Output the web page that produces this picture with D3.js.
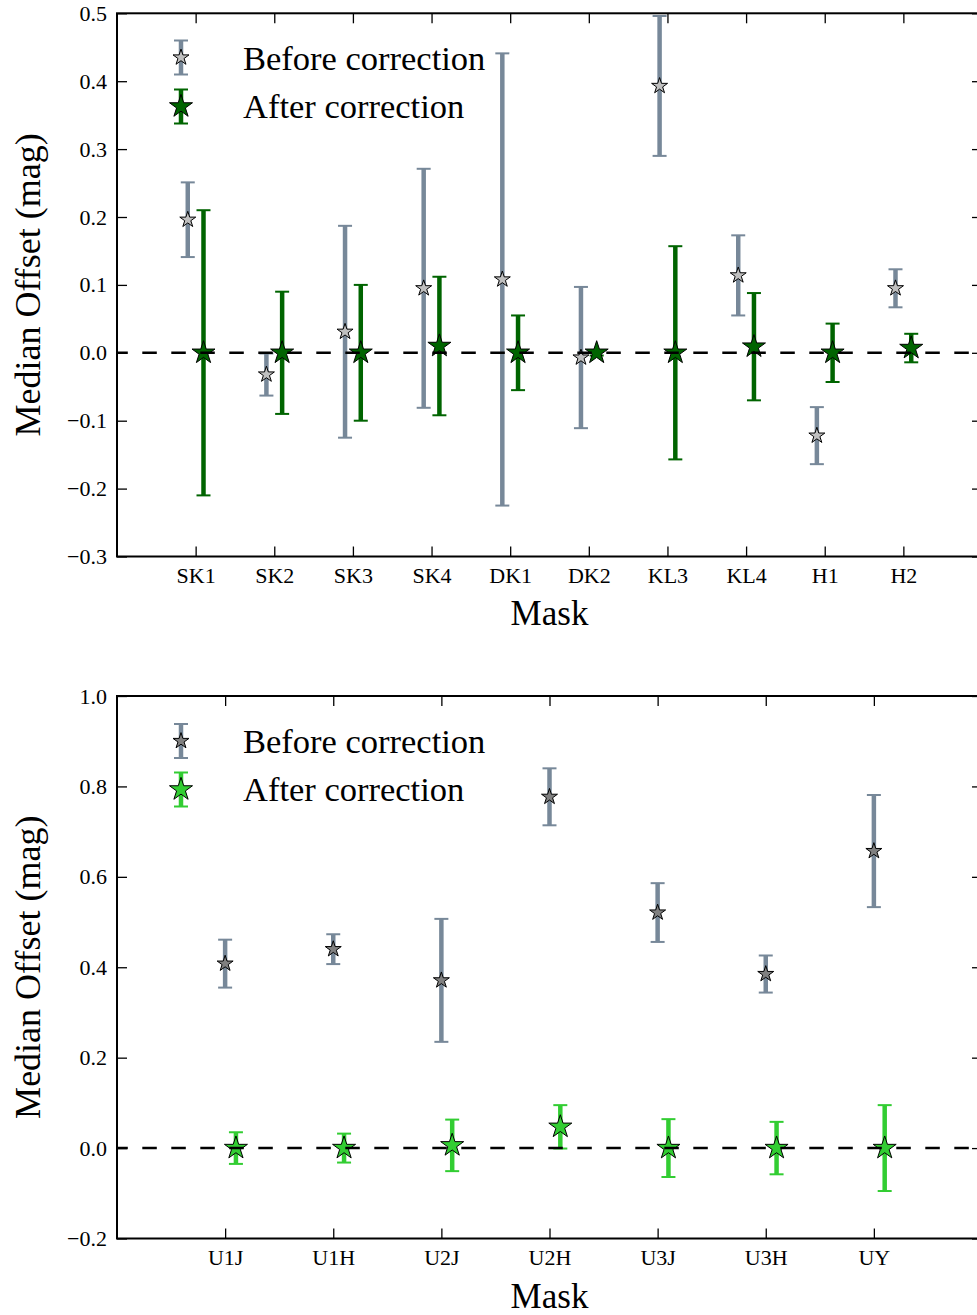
<!DOCTYPE html>
<html>
<head>
<meta charset="utf-8">
<script src="https://cdn.jsdelivr.net/npm/d3@7"></script>
<style>
  html, body { margin: 0; padding: 0; background: #fff; }
  svg { display: block; }
  text { font-family: "Liberation Serif", "Times New Roman", serif; fill: #000; }
</style>
</head>
<body>
<svg id="chart" width="977" height="1315"></svg>
<script>
// ---------------- data ----------------
const topMasks = ["SK1", "SK2", "SK3", "SK4", "DK1", "DK2", "KL3", "KL4", "H1", "H2"];
const topBefore = [0.196, -0.032, 0.031, 0.095, 0.108, -0.007, 0.393, 0.114, -0.122, 0.095];
const topBeforeErr = [0.055, 0.031, 0.156, 0.176, 0.333, 0.104, 0.103, 0.059, 0.042, 0.028];
const topAfter = [0.0, 0.0, 0.0, 0.010, 0.0, 0.0, 0.0, 0.009, 0.0, 0.007];
const topAfterErr = [0.210, 0.090, 0.100, 0.102, 0.055, 0.004, 0.157, 0.079, 0.043, 0.021];
const topYTicks = [-0.3, -0.2, -0.1, 0.0, 0.1, 0.2, 0.3, 0.4, 0.5];

const bottomMasks = ["U1J", "U1H", "U2J", "U2H", "U3J", "U3H", "UY"];
const bottomBefore = [0.408, 0.440, 0.371, 0.777, 0.521, 0.385, 0.657];
const bottomBeforeErr = [0.053, 0.033, 0.136, 0.063, 0.065, 0.041, 0.124];
const bottomAfter = [0.0, 0.0, 0.006, 0.047, 0.0, 0.0, 0.0];
const bottomAfterErr = [0.035, 0.032, 0.057, 0.048, 0.064, 0.058, 0.095];
const bottomYTicks = [-0.2, 0.0, 0.2, 0.4, 0.6, 0.8, 1.0];

const legendLabels = ["Before correction", "After correction"];
const xLabel = "Mask";
const yLabel = "Median Offset (mag)";

// ---------------- drawing ----------------
const svg = d3.select("#chart");

function starPath(R) {
  const pts = [];
  for (let k = 0; k < 10; k++) {
    const a = -Math.PI / 2 + k * Math.PI / 5;
    const r = (k % 2 === 0) ? R : R * 0.381966;
    pts.push([r * Math.cos(a), r * Math.sin(a)]);
  }
  return "M" + pts.map(p => p[0].toFixed(2) + "," + p[1].toFixed(2)).join("L") + "Z";
}

const fmt = v => d3.format(".1f")(v).replace("-", "\u2212");

function panel(opts) {
  const { top, bottom, left, right, xMax, yDomain, yTicks, masks,
          before, beforeErr, after, afterErr, beforeOff, afterOff,
          beforeFill, afterColor, afterFill, legendY, titleBaseline } = opts;

  const x = d3.scaleLinear().domain([0, xMax]).range([left, right]);
  const y = d3.scaleLinear().domain(yDomain).range([bottom, top]);
  const g = svg.append("g");
  const idx = masks.map((d, i) => i + 1);

  const xb = d3.axisBottom(x).tickValues(idx).tickFormat(i => masks[i - 1])
    .tickSizeInner(-10).tickSizeOuter(0).tickPadding(11);
  const xt = d3.axisTop(x).tickValues(idx).tickFormat("")
    .tickSizeInner(-10).tickSizeOuter(0);
  const yl = d3.axisLeft(y).tickValues(yTicks).tickFormat(fmt)
    .tickSizeInner(-10).tickSizeOuter(0).tickPadding(10);
  const yr = d3.axisRight(y).tickValues(yTicks).tickFormat("")
    .tickSizeInner(-10).tickSizeOuter(0);

  const gxb = g.append("g").attr("transform", `translate(0,${bottom})`).call(xb);
  const gxt = g.append("g").attr("transform", `translate(0,${top})`).call(xt);
  const gyl = g.append("g").attr("transform", `translate(${left},0)`).call(yl);
  const gyr = g.append("g").attr("transform", `translate(${right},0)`).call(yr);
  [gxb, gxt, gyl, gyr].forEach(a => {
    a.select(".domain").remove();
    a.selectAll(".tick line").attr("stroke", "#000").attr("stroke-width", 1.3);
    a.selectAll("text").style("font-size", "22px").attr("fill", "#000")
      .style("font-family", '"Liberation Serif", serif');
  });

  g.append("rect").attr("x", left).attr("y", top)
    .attr("width", right - left).attr("height", bottom - top)
    .attr("fill", "none").attr("stroke", "#000").attr("stroke-width", 2);

  function errorbars(vals, errs, off, color) {
    const eg = g.append("g");
    vals.forEach((v, i) => {
      const cx = x(i + 1 + off);
      const y0 = y(v - errs[i]), y1 = y(v + errs[i]);
      eg.append("line").attr("x1", cx).attr("x2", cx).attr("y1", y0).attr("y2", y1)
        .attr("stroke", color).attr("stroke-width", 4.5);
      [y0, y1].forEach(yy => eg.append("line")
        .attr("x1", cx - 7).attr("x2", cx + 7).attr("y1", yy).attr("y2", yy)
        .attr("stroke", color).attr("stroke-width", 2));
    });
  }
  function stars(vals, off, R, fill) {
    g.append("g").selectAll("path").data(vals).join("path")
      .attr("d", starPath(R))
      .attr("transform", (v, i) => `translate(${x(i + 1 + off)},${y(v)})`)
      .attr("fill", fill).attr("stroke", "#000").attr("stroke-width", 1);
  }

  errorbars(before, beforeErr, beforeOff, "#778899");
  stars(before, beforeOff, 8.4, beforeFill);
  errorbars(after, afterErr, afterOff, afterColor);
  stars(after, afterOff, 12.1, afterFill);

  g.append("line").attr("x1", left).attr("x2", right).attr("y1", y(0)).attr("y2", y(0))
    .attr("stroke", "#000").attr("stroke-width", 2.5)
    .attr("stroke-dasharray", "14.5,14.5").attr("stroke-dashoffset", 3.7);

  const lx = 181;
  const lg = g.append("g");
  const items = [
    { c: legendY[0], color: "#778899", R: 8.4, fill: beforeFill, label: legendLabels[0], base: legendY[0] + 12 },
    { c: legendY[1], color: afterColor, R: 12.1, fill: afterFill, label: legendLabels[1], base: legendY[1] + 11 }
  ];
  items.forEach(it => {
    lg.append("line").attr("x1", lx).attr("x2", lx).attr("y1", it.c - 17).attr("y2", it.c + 17)
      .attr("stroke", it.color).attr("stroke-width", 4.5);
    [it.c - 17, it.c + 17].forEach(yy => lg.append("line")
      .attr("x1", lx - 7).attr("x2", lx + 7).attr("y1", yy).attr("y2", yy)
      .attr("stroke", it.color).attr("stroke-width", 2));
    lg.append("path").attr("d", starPath(it.R)).attr("transform", `translate(${lx},${it.c})`)
      .attr("fill", it.fill).attr("stroke", "#000").attr("stroke-width", 1);
    lg.append("text").attr("x", 243).attr("y", it.base).style("font-size", "34.5px").text(it.label);
  });

  g.append("text").attr("x", (left + 982) / 2).attr("y", titleBaseline)
    .attr("text-anchor", "middle").style("font-size", "35px").text(xLabel);
  g.append("text").attr("transform", `translate(40,${(top + bottom) / 2}) rotate(-90)`)
    .attr("text-anchor", "middle").style("font-size", "36px").text(yLabel);
}

panel({
  top: 13.3, bottom: 556.5, left: 117, right: 982, xMax: 11,
  yDomain: [-0.3, 0.5], yTicks: topYTicks, masks: topMasks,
  before: topBefore, beforeErr: topBeforeErr, after: topAfter, afterErr: topAfterErr,
  beforeOff: -0.1, afterOff: 0.1,
  beforeFill: "#c0c0c0", afterColor: "#006400", afterFill: "#006400",
  legendY: [57.5, 106.5], titleBaseline: 625
});

panel({
  top: 696, bottom: 1238.5, left: 117, right: 982, xMax: 8,
  yDomain: [-0.2, 1.0], yTicks: bottomYTicks, masks: bottomMasks,
  before: bottomBefore, beforeErr: bottomBeforeErr, after: bottomAfter, afterErr: bottomAfterErr,
  beforeOff: 0, afterOff: 0.1,
  beforeFill: "#808080", afterColor: "#32cd32", afterFill: "#32cd32",
  legendY: [741, 789.5], titleBaseline: 1308
});
</script>
</body>
</html>
